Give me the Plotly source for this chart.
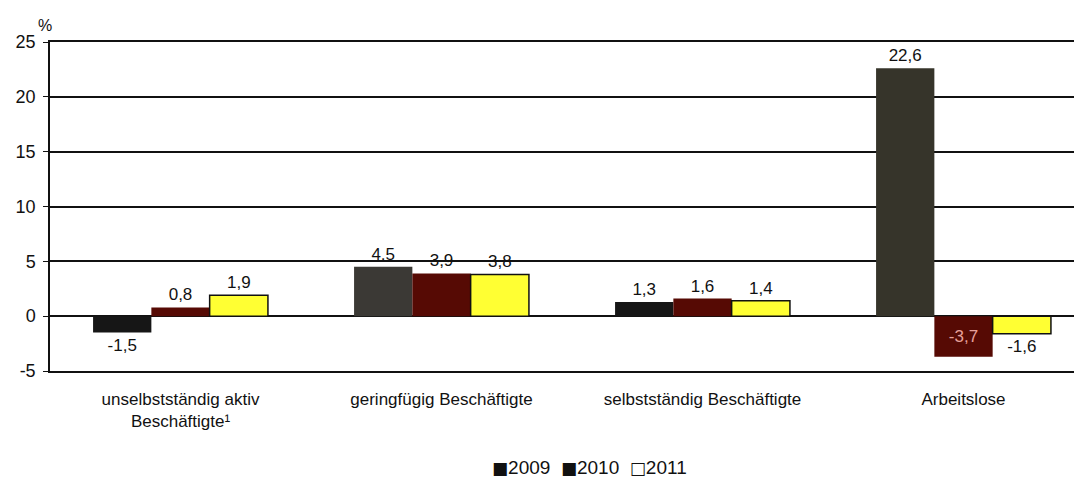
import plotly.graph_objects as go

categories = ["unselbstständig aktiv<br>Beschäftigte¹", "geringfügig Beschäftigte",
              "selbstständig Beschäftigte", "Arbeitslose"]
years = ["2009", "2010", "2011"]
v2009 = [-1.5, 4.5, 1.3, 22.6]
v2010 = [0.8, 3.9, 1.6, -3.7]
v2011 = [1.9, 3.8, 1.4, -1.6]
y_ticks = [-5, 0, 5, 10, 15, 20, 25]

def fmt(v):
    return f"{v:.1f}".replace(".", ",")

fig = go.Figure()
font = "Liberation Sans, Arial, sans-serif"
LS = 17

fig.add_trace(go.Bar(
    x=categories, y=v2009, name=years[0], showlegend=False,
    marker=dict(color=["#161616", "#3b3935", "#161616", "#36342a"], line=dict(width=0)),
    text=[fmt(v) for v in v2009], textposition="outside",
    textfont=dict(size=LS, color="#111"), constraintext="none", cliponaxis=False))
fig.add_trace(go.Bar(
    x=categories, y=v2010, name=years[1], showlegend=False,
    marker=dict(color="#560a04", line=dict(width=0)),
    text=[fmt(v) for v in v2010],
    textposition=["outside", "outside", "outside", "inside"],
    insidetextanchor="middle",
    insidetextfont=dict(size=LS, color="#e6a09a"),
    outsidetextfont=dict(size=LS, color="#111"),
    constraintext="none", cliponaxis=False))
fig.add_trace(go.Bar(
    x=categories, y=v2011, name=years[2], showlegend=False,
    marker=dict(color="#ffff33", line=dict(width=1.5, color="#111")),
    text=[fmt(v) for v in v2011], textposition="outside",
    textfont=dict(size=LS, color="#111"), constraintext="none", cliponaxis=False))

sq = "<span style='font-family:DejaVu Sans;font-size:17px'>{}</span>"
legend_text = (sq.format("■") + years[0] + "&nbsp;&nbsp;"
               + sq.format("■") + years[1] + "&nbsp;&nbsp;"
               + sq.format("□") + years[2])

# page body has an 8px margin; figure is sized to fill the rest of the window
fig.update_layout(
    width=1074, height=475,
    margin=dict(l=42, r=0, t=34, b=112),
    paper_bgcolor="white", plot_bgcolor="white",
    barmode="group", bargap=0.33, bargroupgap=0,
    font=dict(family=font, size=16, color="#111"),
    showlegend=False,
    annotations=[
        dict(text="%", xref="paper", yref="paper", x=-0.005, y=1.0,
             xanchor="center", yanchor="bottom", yshift=6,
             showarrow=False, font=dict(size=16)),
        dict(text=legend_text, xref="paper", yref="paper", x=0.523, y=-0.292,
             xanchor="center", yanchor="middle", showarrow=False,
             font=dict(size=19, color="#111")),
    ],
)
fig.update_yaxes(range=[-5, 25], tickvals=y_ticks, ticktext=[str(t) for t in y_ticks],
                 showgrid=True, gridcolor="#111", gridwidth=1.5,
                 showline=True, linecolor="#111", linewidth=1.5,
                 ticks="outside", ticklen=5, tickcolor="#111",
                 zeroline=True, zerolinecolor="#111", zerolinewidth=1.5,
                 tickfont=dict(size=18), ticklabelstandoff=4, automargin=False)
fig.update_xaxes(range=[-0.5, 3.454], showgrid=False, showline=True, mirror=True,
                 linecolor="#111", linewidth=1.5,
                 ticks="", tickfont=dict(size=17), ticklabelstandoff=12, automargin=False)

fig.write_html("out.html")
